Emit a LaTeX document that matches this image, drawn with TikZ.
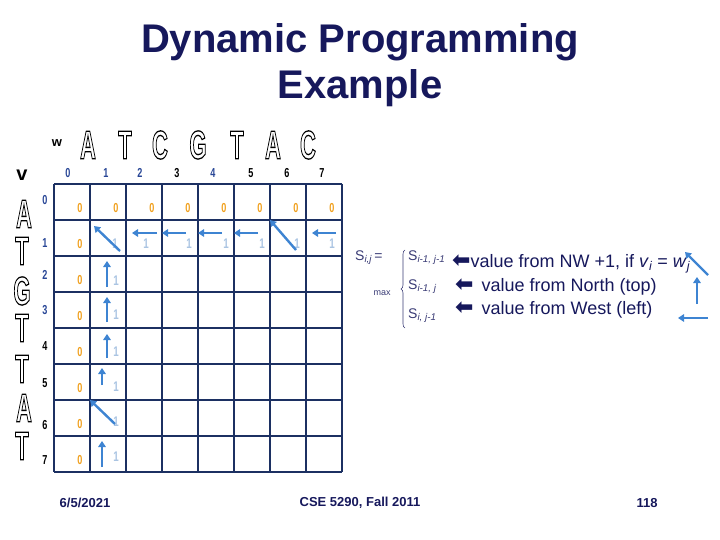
\documentclass[tikz,border=0pt]{standalone}
\usepackage{fontspec}
\setmainfont{Liberation Sans}
\newfontfamily\arrowfont{DejaVu Sans}
\usetikzlibrary{arrows.meta,decorations.pathreplacing}
\definecolor{navy}{RGB}{22,24,92}
\definecolor{gridblue}{RGB}{28,48,98}
\definecolor{arrowblue}{RGB}{62,132,210}
\definecolor{zeroorange}{RGB}{240,160,30}
\definecolor{onepale}{RGB}{170,196,226}
\definecolor{idxblue}{RGB}{40,70,150}
% outlined glyph: white fill, black stroke
\newcommand{\hollow}[1]{\textcolor{white}{\special{pdf:literal direct 2 Tr 1.3 w 0 G}#1\special{pdf:literal direct 0 Tr}}}
\newcommand{\narrow}[1]{\scalebox{0.55}[1]{#1}}
\newcommand{\slim}[1]{\scalebox{0.7}[1]{#1}}
% one big sequence letter
\newcommand{\seqchar}[4]{%
  \node[seqletter] (#1) at (#2,#3) {\narrow{\hollow{#4}}};}

\begin{document}
\begin{tikzpicture}[x=1pt,y=-1pt,
  heading/.style={text=navy, align=center, font=\fontsize{40}{46}\selectfont\bfseries},
  seqletter/.style={inner sep=0pt, font=\fontsize{40}{40}\selectfont\bfseries},
  idx/.style={inner sep=0pt, font=\fontsize{13}{13}\selectfont\bfseries},
  zero/.style={inner sep=0pt, text=zeroorange, font=\fontsize{13}{13}\selectfont\bfseries},
  one/.style={inner sep=0pt, text=onepale, font=\fontsize{14}{14}\selectfont\bfseries},
  gridline/.style={gridblue, line width=1.2pt},
  cellarrow/.style={arrowblue, line width=2.4pt, -{Triangle[length=6pt,width=7.5pt]}},
  term/.style={anchor=west, inner sep=0pt, text=navy!85, font=\fontsize{14}{14}\selectfont},
  rulelabel/.style={anchor=west, inner sep=0pt, text=navy, font=\fontsize{18}{18}\selectfont},
  footer/.style={text=navy, font=\fontsize{13}{13}\selectfont\bfseries},
]
\useasboundingbox (0,0) rectangle (720,540);

\node[heading] (title) at (360,65) {Dynamic Programming\\Example};

% sequences
\node[font=\fontsize{13}{13}\selectfont\bfseries] (wlbl) at (57,143) {w};
\node[font=\fontsize{20}{20}\selectfont\bfseries] (vlbl) at (22,175) {v};
\seqchar{w1}{88}{145}{A}
\seqchar{w2}{125}{145}{T}
\seqchar{w3}{160}{145}{C}
\seqchar{w4}{198}{145}{G}
\seqchar{w5}{237}{145}{T}
\seqchar{w6}{273}{145}{A}
\seqchar{w7}{308}{145}{C}
\seqchar{v1}{24}{214}{A}
\seqchar{v2}{22}{251}{T}
\seqchar{v3}{22}{291}{G}
\seqchar{v4}{22}{328}{T}
\seqchar{v5}{22}{369}{T}
\seqchar{v6}{24}{408}{A}
\seqchar{v7}{22}{446}{T}

% indices
\foreach \c/\x/\col in {0/68/idxblue,1/106/idxblue,2/140/idxblue,3/177/black,4/213/idxblue,5/251/black,6/287/black,7/322/black}
  \node[idx, text=\col] (cn\c) at (\x,173) {\slim{\c}};
\foreach \r/\y/\col in {0/200/idxblue,1/243/idxblue,2/275/idxblue,3/310/idxblue,4/346/black,5/383/black,6/425/black,7/460/black}
  \node[idx, text=\col] (rn\r) at (45,\y) {\slim{\r}};

% table
\foreach \k in {0,...,8} {
  \draw[gridline] (54+36*\k,184) -- (54+36*\k,472);
  \draw[gridline] (54,184+36*\k) -- (342,184+36*\k);
}
\foreach \c in {0,...,7}
  \node[zero] (z0-\c) at (80+36*\c,208) {\slim{0}};
\foreach \r in {1,...,7}
  \node[zero] (z\r-0) at (80,208+36*\r) {\slim{0}};
\foreach \c/\x in {1/115,2/146,3/189,4/226,5/262,6/297,7/332}
  \node[one] (o1-\c) at (\x,244) {\slim{1}};
\foreach \r/\y in {2/281,3/315,4/352,5/387,6/422,7/457}
  \node[one] (o\r-1) at (116,\y) {\slim{1}};

% back pointers
\coordinate (d1s) at (120,251); \coordinate (d1e) at (94,226);
\coordinate (d2s) at (296,250); \coordinate (d2e) at (270,220);
\coordinate (d3s) at (115,424); \coordinate (d3e) at (90,400);
\foreach \n in {1,2,3}
  \draw[cellarrow] (d\n s) -- (d\n e);
\foreach \n/\xa/\xb in {2/157/132,3/186/162,4/222/198,5/258/234,7/336/312} {
  \coordinate (l\n s) at (\xa,233); \coordinate (l\n e) at (\xb,233);
  \draw[cellarrow] (l\n s) -- (l\n e);
}
\foreach \r/\x/\ya/\yb in {2/107/287/261,3/107/322/297,4/107/358/334,5/102/385/368,7/102/467/441} {
  \coordinate (u\r s) at (\x,\ya); \coordinate (u\r e) at (\x,\yb);
  \draw[cellarrow] (u\r s) -- (u\r e);
}

% recurrence
\node[term] (sij) at (355,258) {S\textsubscript{\itshape i,j}\,=};
\node[text=navy!85, font=\fontsize{9}{9}\selectfont] (maxlbl) at (382,293) {max};
\coordinate (brb) at (405,328); \coordinate (brt) at (405,250);
\draw[navy!85, line width=0.6pt, decorate, decoration={brace, amplitude=4pt}] (brb) -- (brt);
\node[term] (t1) at (408,258) {S\textsubscript{\itshape i-1, j-1}};
\node[term] (t2) at (408,287) {S\textsubscript{\itshape i-1, j}};
\node[term] (t3) at (408,316) {S\textsubscript{\itshape i, j-1}};
\node[rulelabel] (r1) at (452,264) {{\arrowfont\bfseries\fontsize{22}{22}\selectfont ⬅}value from NW +1, if \textit{v}\textsubscript{\itshape i} = \textit{w}\textsubscript{\itshape j}};
\node[rulelabel] (r2) at (455,287) {{\arrowfont\bfseries\fontsize{22}{22}\selectfont ⬅}\, value from North (top)};
\node[rulelabel] (r3) at (455,310) {{\arrowfont\bfseries\fontsize{22}{22}\selectfont ⬅}\, value from West (left)};

% legend pointers
\coordinate (kd s) at (708,275); \coordinate (kd e) at (685,252);
\coordinate (ku s) at (697,304); \coordinate (ku e) at (697,277);
\coordinate (kl s) at (708,318); \coordinate (kl e) at (678,318);
\draw[cellarrow] (kd s) -- (kd e);
\draw[cellarrow] (ku s) -- (ku e);
\draw[cellarrow] (kl s) -- (kl e);

% footer
\node[footer] (date) at (85,503) {6/5/2021};
\node[footer] (course) at (360,503) {CSE 5290, Fall 2011};
\node[footer] (page) at (647,503) {118};
\end{tikzpicture}
\end{document}
